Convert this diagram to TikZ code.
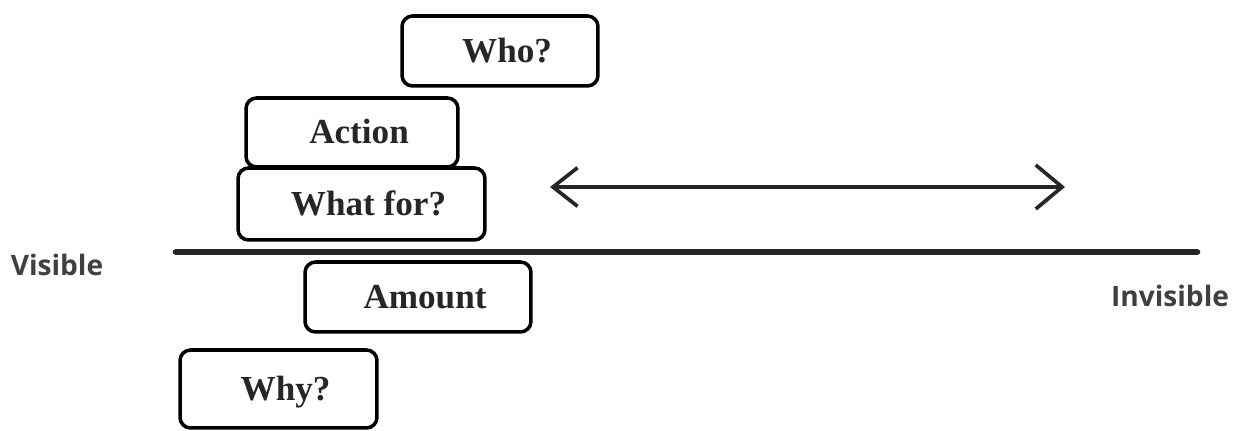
\documentclass[tikz,border=0pt]{standalone}
\usepackage{fontspec}
\setmainfont{Liberation Serif}
\newfontfamily\labfont{Open Sans}
\usetikzlibrary{arrows.meta}
\tikzset{
  box/.style={draw=black, line width=2pt, rounded corners=6pt, fill=white,
    font=\fontsize{20}{23}\selectfont\bfseries, text=black!85, inner sep=0pt,
    text depth=0pt, text height=13pt},
  side/.style={font=\labfont\fontsize{16}{18}\selectfont\bfseries, text=black!75},
  baseline/.style={line width=3.8pt, line cap=round, draw=black!85},
  twoway/.style={line width=2.1pt, draw=black!85,
    {Straight Barb[length=14pt,width=22pt,line width=2.1pt]}-{Straight Barb[length=15pt,width=25pt,line width=2.1pt]}}
}
\begin{document}
\begin{tikzpicture}[x=0.02cm,y=-0.02cm]
\useasboundingbox (0,0) rectangle (1237,431);
\node[box, minimum width=3.92cm, minimum height=1.40cm] (who) at (500,51) {\hspace*{8pt}Who?};
\node[box, minimum width=4.24cm, minimum height=1.38cm] (action) at (352,132.5) {\hspace*{8pt}Action};
\node[box, minimum width=4.94cm, minimum height=1.44cm] (whatfor) at (361.5,204) {\hspace*{8pt}What for?};
\node[box, minimum width=4.52cm, minimum height=1.40cm] (amount) at (418,297) {\hspace*{8pt}Amount};
\node[box, minimum width=3.94cm, minimum height=1.56cm] (why) at (278.5,389) {\hspace*{8pt}Why?};
\coordinate (lineL) at (176,252);
\coordinate (lineR) at (1197,252);
\draw[baseline] (lineL) -- (lineR);
\coordinate (arrL) at (550,187);
\coordinate (arrR) at (1065,187);
\draw[twoway] (arrL) -- (arrR);
\node[side] (visible) at (57,265) {Visible};
\node[side] (invisible) at (1170,296) {Invisible};
\end{tikzpicture}
\end{document}
